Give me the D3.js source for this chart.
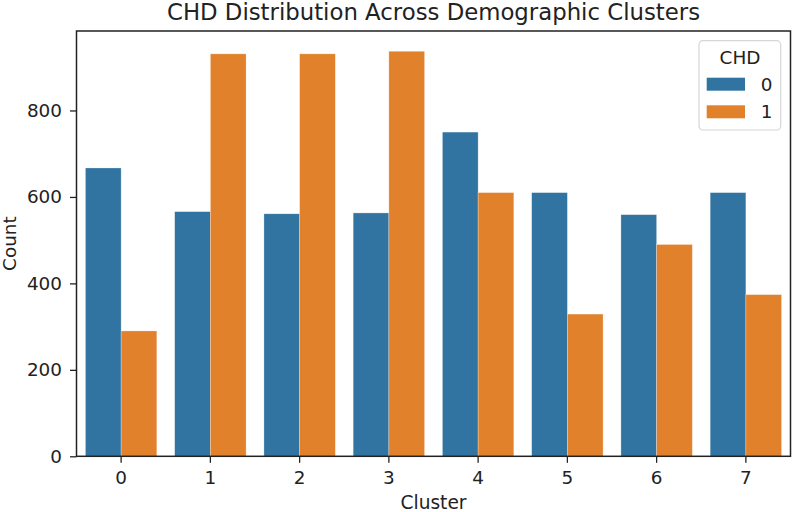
<!DOCTYPE html>
<html>
<head>
<meta charset="utf-8">
<script src="https://cdn.jsdelivr.net/npm/d3@7"></script>
<style>
  html, body { margin: 0; padding: 0; background: #fff; }
  svg text { font-family: "DejaVu Sans", sans-serif; fill: #222; }
</style>
</head>
<body>
<div id="chart"></div>
<script>
// Counts per cluster, split by CHD outcome
const clusters = ['0', '1', '2', '3', '4', '5', '6', '7'];
const chdLevels = ['0', '1'];
const countsChd0 = [667, 566, 561, 563, 750, 610, 559, 610];
const countsChd1 = [290, 931, 931, 937, 610, 329, 490, 374];
const yTicks = [0, 200, 400, 600, 800];

const COLORS = { '0': '#3274a1', '1': '#e1812c' };

const width = 793, height = 512;
const margin = { top: 31, right: 2.5, bottom: 55.7, left: 76.5 };
const innerW = width - margin.left - margin.right;
const innerH = height - margin.top - margin.bottom;

const svg = d3.select('#chart').append('svg')
  .attr('width', width).attr('height', height);

const g = svg.append('g').attr('transform', `translate(${margin.left},${margin.top})`);

const rows = clusters.map((c, i) => ({ cluster: c, values: [countsChd0[i], countsChd1[i]] }));
const maxVal = d3.max([...countsChd0, ...countsChd1]);

const x = d3.scaleBand().domain(clusters).range([0, innerW]).paddingInner(0.2).paddingOuter(0.1);
const xSub = d3.scaleBand().domain(chdLevels).range([0, x.bandwidth()]);
const y = d3.scaleLinear().domain([0, maxVal * 1.05]).range([innerH, 0]);

// bars
const groups = g.append('g').selectAll('g')
  .data(rows).join('g')
    .attr('transform', d => `translate(${x(d.cluster)},0)`);

groups.selectAll('rect')
  .data(d => d.values.map((v, k) => ({ level: chdLevels[k], v })))
  .join('rect')
    .attr('x', d => xSub(d.level))
    .attr('y', d => y(d.v))
    .attr('width', xSub.bandwidth())
    .attr('height', d => innerH - y(d.v))
    .attr('fill', d => COLORS[d.level])
    .attr('stroke', '#ffffff')
    .attr('stroke-opacity', 0.45)
    .attr('stroke-width', 0.6);

// axes
const xAxis = g.append('g').attr('transform', `translate(0,${innerH})`)
  .call(d3.axisBottom(x).tickSizeOuter(0).tickSize(6.5).tickPadding(8));
const yAxis = g.append('g')
  .call(d3.axisLeft(y).tickValues(yTicks).tickSizeOuter(0).tickSize(6.5).tickPadding(8));

[xAxis, yAxis].forEach(a => {
  a.select('.domain').remove();
  a.selectAll('.tick line').attr('stroke', '#222').attr('stroke-width', 1.3);
  a.selectAll('.tick text').attr('font-size', 18.4).attr('fill', '#222');
});

// spines
g.append('rect')
  .attr('x', 0).attr('y', 0).attr('width', innerW).attr('height', innerH)
  .attr('fill', 'none').attr('stroke', '#222').attr('stroke-width', 1.5);

// labels
svg.append('text')
  .attr('x', margin.left + innerW / 2).attr('y', 20)
  .attr('text-anchor', 'middle').attr('font-size', 22.8)
  .text('CHD Distribution Across Demographic Clusters');

svg.append('text')
  .attr('x', margin.left + innerW / 2).attr('y', 509)
  .attr('text-anchor', 'middle').attr('font-size', 18.6)
  .text('Cluster');

svg.append('text')
  .attr('transform', `translate(16,${margin.top + innerH / 2}) rotate(-90)`)
  .attr('text-anchor', 'middle').attr('font-size', 18.4)
  .text('Count');

// legend
const lg = svg.append('g').attr('transform', 'translate(699,40.7)');
lg.append('rect')
  .attr('width', 81.7).attr('height', 89.3).attr('rx', 4)
  .attr('fill', '#fff').attr('fill-opacity', 0.8)
  .attr('stroke', '#d6d6d6').attr('stroke-width', 1.2);
lg.append('text')
  .attr('x', 41).attr('y', 23).attr('text-anchor', 'middle').attr('font-size', 18.4)
  .text('CHD');
const items = lg.selectAll('g.item').data(chdLevels).join('g')
  .attr('class', 'item')
  .attr('transform', (d, i) => `translate(7.7,${37 + i * 27.6})`);
items.append('rect')
  .attr('width', 38.3).attr('height', 13)
  .attr('fill', d => COLORS[d]);
items.append('text')
  .attr('x', 54).attr('y', 13).attr('font-size', 18.4)
  .text(d => d);
</script>
</body>
</html>
